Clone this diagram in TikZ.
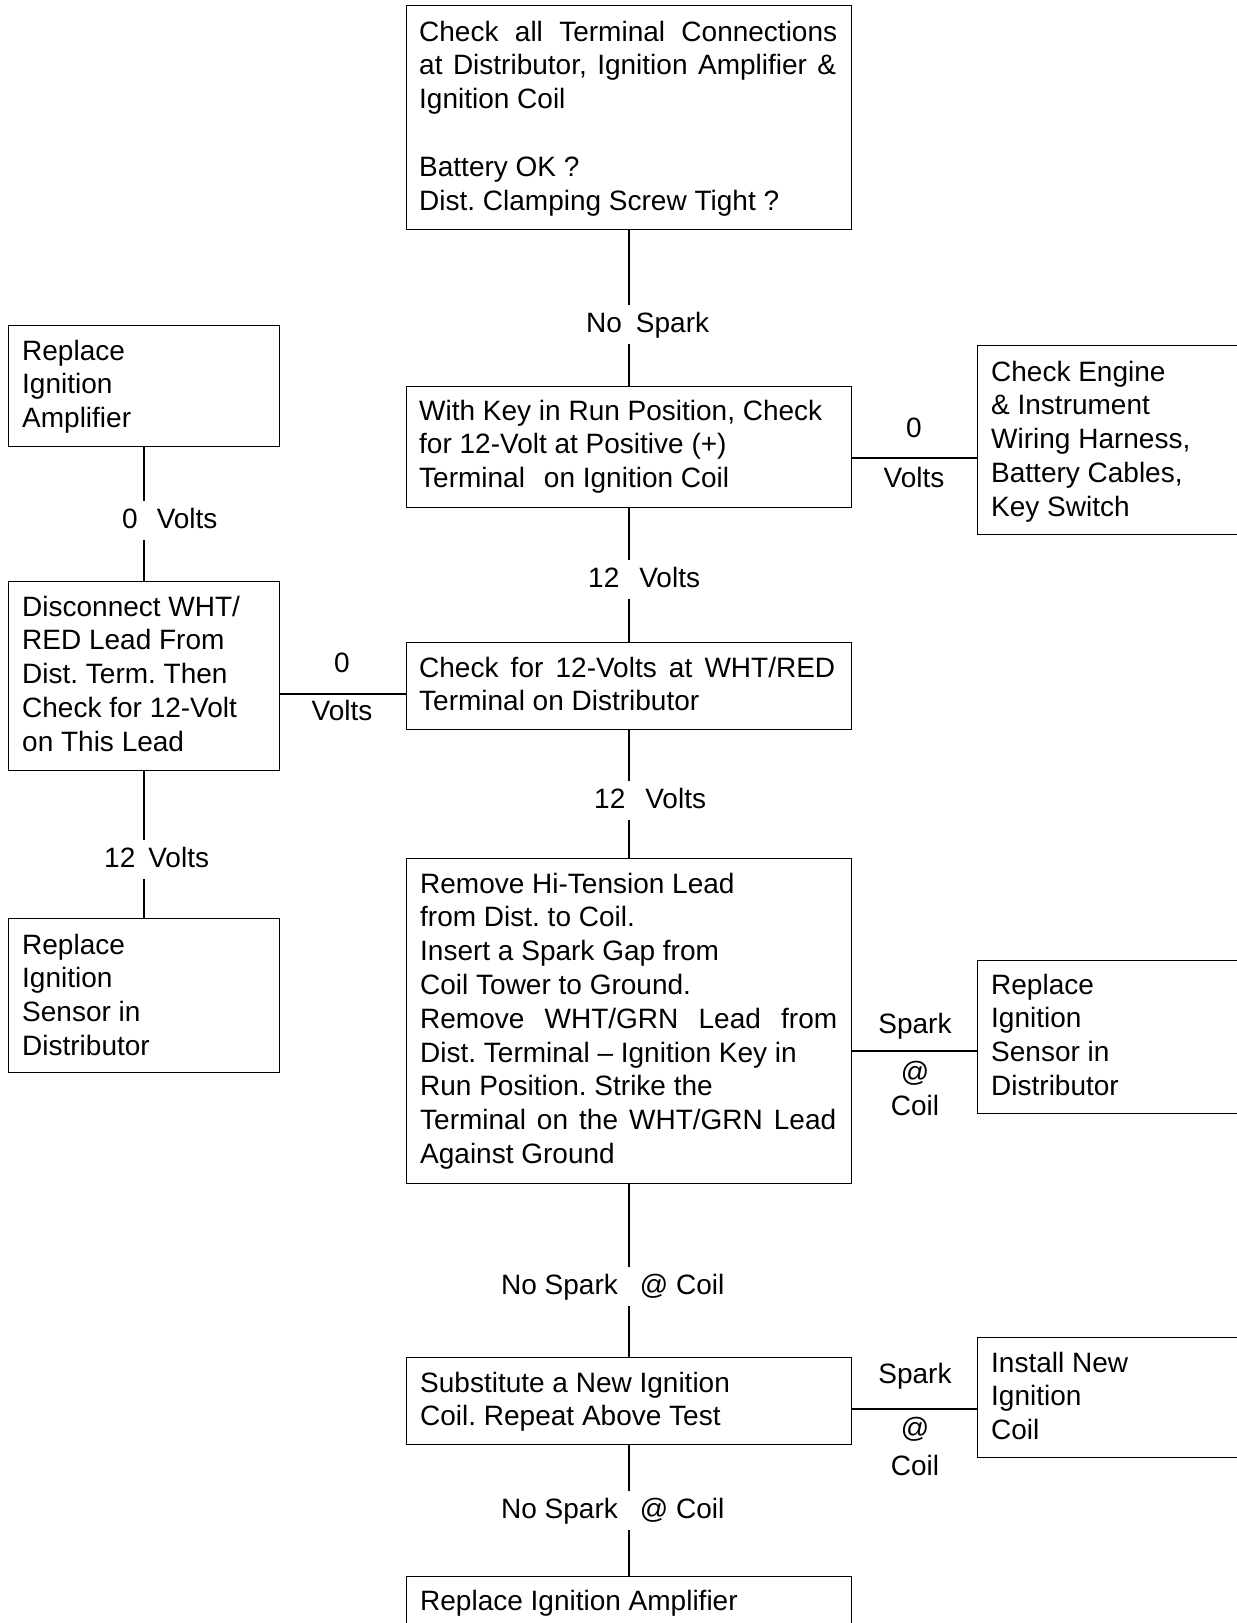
\documentclass[tikz,border=0pt]{standalone}
\usepackage{fontspec}
\setmainfont{Liberation Sans}
\newcommand{\dgfont}{\fontsize{28pt}{33.8pt}\selectfont}
\frenchspacing
\begin{document}
\frenchspacing
\begin{tikzpicture}[x=1pt,y=-1pt,
  box/.style={draw=black, line width=1.4pt, inner sep=0pt, anchor=north west},
  txt/.style={inner sep=0pt, anchor=base west, font=\dgfont},
  lbl/.style={inner xsep=0pt, inner ysep=7pt, text height=20pt, text depth=5pt, anchor=base west, font=\dgfont},
  hlbl/.style={inner sep=0pt, anchor=base, font=\dgfont},
  conn/.style={line width=2pt}]
\useasboundingbox (0,0) rectangle (1237,1623);
% boxes
\node[box, minimum width=445pt, minimum height=224pt] (b1) at (406,5) {};
\node[box, minimum width=445pt, minimum height=121pt] (b2) at (406,386) {};
\node[box, minimum width=445pt, minimum height=87pt]  (b3) at (406,642) {};
\node[box, minimum width=445pt, minimum height=325pt] (b4) at (406,858) {};
\node[box, minimum width=445pt, minimum height=87pt]  (b5) at (406,1357) {};
\node[box, minimum width=445pt, minimum height=100pt] (b6) at (406,1576) {};
\node[box, minimum width=271pt, minimum height=121pt] (l1) at (8,325) {};
\node[box, minimum width=271pt, minimum height=189pt] (l2) at (8,581) {};
\node[box, minimum width=271pt, minimum height=154pt] (l3) at (8,918) {};
\node[box, minimum width=275pt, minimum height=189pt] (r1) at (977,345) {};
\node[box, minimum width=275pt, minimum height=153pt] (r2) at (977,960) {};
\node[box, minimum width=275pt, minimum height=120pt] (r3) at (977,1337) {};
% box texts
\node[txt] (t1) at (419,41) {\parbox[t]{440pt}{\makebox[418pt][s]{Check all Terminal Connections}\\
  \makebox[417pt][s]{at Distributor, Ignition Amplifier \&}\\
  Ignition Coil\\ \mbox{}\\ Battery OK ?\\ Dist. Clamping Screw Tight ?}};
\node[txt] (t2) at (419,420) {\parbox[t]{440pt}{With Key in Run Position, Check\\
  for 12-Volt at Positive (+)\\ Terminal\hspace{19pt}on Ignition Coil}};
\node[txt] (t3) at (419,677) {\parbox[t]{440pt}{\makebox[416pt][s]{Check for 12-Volts at WHT/RED}\\
  Terminal on Distributor}};
\node[txt] (t4) at (420,893) {\parbox[t]{440pt}{Remove Hi-Tension Lead\\ from Dist. to Coil.\\
  Insert a Spark Gap from\\ Coil Tower to Ground.\\
  \makebox[417pt][s]{Remove WHT/GRN Lead from}\\
  Dist. Terminal – Ignition Key in\\ Run Position. Strike the\\
  \makebox[416pt][s]{Terminal on the WHT/GRN Lead}\\ Against Ground}};
\node[txt] (t5) at (420,1392) {\parbox[t]{440pt}{Substitute a New Ignition\\ Coil. Repeat Above Test}};
\node[txt] (t6) at (420,1610) {Replace Ignition Amplifier};
\node[txt] (tl1) at (22,360) {\parbox[t]{260pt}{Replace\\ Ignition\\ Amplifier}};
\node[txt] (tl2) at (22,616) {\parbox[t]{260pt}{Disconnect WHT/\\ RED Lead From\\ Dist. Term. Then\\ Check for 12-Volt\\ on This Lead}};
\node[txt] (tl3) at (22,954) {\parbox[t]{260pt}{Replace\\ Ignition\\ Sensor in\\ Distributor}};
\node[txt] (tr1) at (991,381) {\parbox[t]{260pt}{Check Engine\\ \& Instrument\\ Wiring Harness,\\ Battery Cables,\\ Key Switch}};
\node[txt] (tr2) at (991,994) {\parbox[t]{260pt}{Replace\\ Ignition\\ Sensor in\\ Distributor}};
\node[txt] (tr3) at (991,1372) {\parbox[t]{260pt}{Install New\\ Ignition\\ Coil}};
% vertical labels
\node[lbl] (ns1) at (586,332) {No\hspace{14pt}Spark};
\node[lbl] (v12a) at (588,587) {12\hspace{20pt}Volts};
\node[lbl] (v12b) at (594,808) {12\hspace{20pt}Volts};
\node[lbl] (nsc1) at (501,1294) {No Spark\hspace{22pt}@ Coil};
\node[lbl] (nsc2) at (501,1518) {No Spark\hspace{22pt}@ Coil};
\node[lbl] (v0l) at (122,528) {0\hspace{19pt}Volts};
\node[lbl] (v12l) at (104,867) {12\hspace{13pt}Volts};
% horizontal labels
\node[hlbl] (h1a) at (914,437) {0};
\node[hlbl] (h1b) at (914,487) {Volts};
\node[hlbl] (h2a) at (342,672) {0};
\node[hlbl] (h2b) at (342,720) {Volts};
\node[hlbl] (h3a) at (915,1033) {Spark};
\node[hlbl] (h3b) at (915,1081) {@};
\node[hlbl] (h3c) at (915,1115) {Coil};
\node[hlbl] (h4a) at (915,1383) {Spark};
\node[hlbl] (h4b) at (915,1437) {@};
\node[hlbl] (h4c) at (915,1475) {Coil};
% vertical connectors
\draw[conn] (b1.south) -- (b1.south |- ns1.north);
\draw[conn] (b2.north |- ns1.south) -- (b2.north);
\draw[conn] (b2.south) -- (b2.south |- v12a.north);
\draw[conn] (b3.north |- v12a.south) -- (b3.north);
\draw[conn] (b3.south) -- (b3.south |- v12b.north);
\draw[conn] (b4.north |- v12b.south) -- (b4.north);
\draw[conn] (b4.south) -- (b4.south |- nsc1.north);
\draw[conn] (b5.north |- nsc1.south) -- (b5.north);
\draw[conn] (b5.south) -- (b5.south |- nsc2.north);
\draw[conn] (b6.north |- nsc2.south) -- (b6.north);
\draw[conn] (l1.south) -- (l1.south |- v0l.north);
\draw[conn] (l2.north |- v0l.south) -- (l2.north);
\draw[conn] (l2.south) -- (l2.south |- v12l.north);
\draw[conn] (l3.north |- v12l.south) -- (l3.north);
% horizontal connectors
\coordinate (c1) at ([yshift=-10.5pt]b2.east);
\draw[conn] (c1) -- (c1 -| r1.west);
\coordinate (c2) at ([yshift=-7.5pt]b3.west);
\draw[conn] (c2) -- (c2 -| l2.east);
\coordinate (c3) at ([yshift=-29.5pt]b4.east);
\draw[conn] (c3) -- (c3 -| r2.west);
\coordinate (c4) at ([yshift=-7.5pt]b5.east);
\draw[conn] (c4) -- (c4 -| r3.west);
\end{tikzpicture}
\end{document}
